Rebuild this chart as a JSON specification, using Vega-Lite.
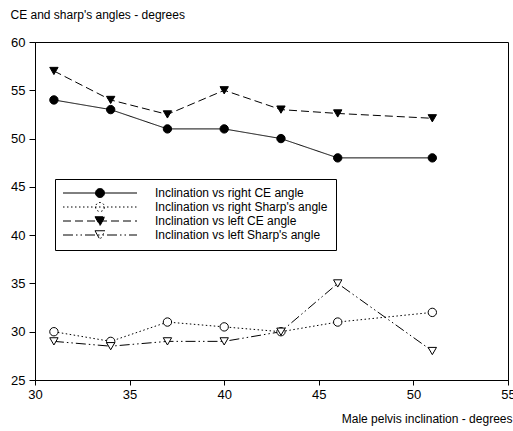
{
  "$schema": "https://vega.github.io/schema/vega-lite/v6.json",
  "width": 473,
  "height": 338,
  "autosize": "none",
  "padding": {"left": 35, "top": 42, "right": 5, "bottom": 51},
  "background": "white",
  "config": {
    "view": {"stroke": "black", "strokeWidth": 1},
    "font": "Liberation Sans"
  },
  "data": {
    "values": [
      {"s": "Inclination vs right CE angle", "m": "rCE", "x": 31, "y": 54},
      {"s": "Inclination vs right CE angle", "m": "rCE", "x": 34, "y": 53},
      {"s": "Inclination vs right CE angle", "m": "rCE", "x": 37, "y": 51},
      {"s": "Inclination vs right CE angle", "m": "rCE", "x": 40, "y": 51},
      {"s": "Inclination vs right CE angle", "m": "rCE", "x": 43, "y": 50},
      {"s": "Inclination vs right CE angle", "m": "rCE", "x": 46, "y": 48},
      {"s": "Inclination vs right CE angle", "m": "rCE", "x": 51, "y": 48},
      {"s": "Inclination vs right Sharp's angle", "m": "rSh", "x": 31, "y": 30},
      {"s": "Inclination vs right Sharp's angle", "m": "rSh", "x": 34, "y": 29},
      {"s": "Inclination vs right Sharp's angle", "m": "rSh", "x": 37, "y": 31},
      {"s": "Inclination vs right Sharp's angle", "m": "rSh", "x": 40, "y": 30.5},
      {"s": "Inclination vs right Sharp's angle", "m": "rSh", "x": 43, "y": 30},
      {"s": "Inclination vs right Sharp's angle", "m": "rSh", "x": 46, "y": 31},
      {"s": "Inclination vs right Sharp's angle", "m": "rSh", "x": 51, "y": 32},
      {"s": "Inclination vs left CE angle", "m": "lCE", "x": 31, "y": 57},
      {"s": "Inclination vs left CE angle", "m": "lCE", "x": 34, "y": 54},
      {"s": "Inclination vs left CE angle", "m": "lCE", "x": 37, "y": 52.5},
      {"s": "Inclination vs left CE angle", "m": "lCE", "x": 40, "y": 55},
      {"s": "Inclination vs left CE angle", "m": "lCE", "x": 43, "y": 53},
      {"s": "Inclination vs left CE angle", "m": "lCE", "x": 46, "y": 52.6},
      {"s": "Inclination vs left CE angle", "m": "lCE", "x": 51, "y": 52.1},
      {"s": "Inclination vs left Sharp's angle", "m": "lSh", "x": 31, "y": 29},
      {"s": "Inclination vs left Sharp's angle", "m": "lSh", "x": 34, "y": 28.5},
      {"s": "Inclination vs left Sharp's angle", "m": "lSh", "x": 37, "y": 29},
      {"s": "Inclination vs left Sharp's angle", "m": "lSh", "x": 40, "y": 29},
      {"s": "Inclination vs left Sharp's angle", "m": "lSh", "x": 43, "y": 30},
      {"s": "Inclination vs left Sharp's angle", "m": "lSh", "x": 46, "y": 35},
      {"s": "Inclination vs left Sharp's angle", "m": "lSh", "x": 51, "y": 28}
    ]
  },
  "encoding": {
    "x": {
      "field": "x", "type": "quantitative",
      "scale": {"domain": [30, 55], "nice": false, "zero": false},
      "axis": {
        "values": [30, 35, 40, 45, 50, 55],
        "grid": false, "domainColor": "black", "tickColor": "black",
        "tickSize": 5, "labelFontSize": 13, "labelColor": "black", "labelPadding": 3,
        "labelFlush": false,
        "title": "Male pelvis inclination - degrees",
        "titleFontSize": 12, "titleFontWeight": "normal", "titleColor": "black",
        "titleAnchor": null, "titleAlign": "right", "titleBaseline": "alphabetic",
        "titleX": 477, "titleY": 42
      }
    },
    "y": {
      "field": "y", "type": "quantitative",
      "scale": {"domain": [25, 60], "nice": false, "zero": false},
      "axis": {
        "values": [25, 30, 35, 40, 45, 50, 55, 60],
        "grid": false, "domainColor": "black", "tickColor": "black",
        "tickSize": 6, "labelFontSize": 13, "labelColor": "black", "labelPadding": 4,
        "title": "CE and sharp's angles - degrees",
        "titleFontSize": 12, "titleFontWeight": "normal", "titleColor": "black",
        "titleAngle": 0, "titleAnchor": null, "titleAlign": "left", "titleBaseline": "alphabetic",
        "titleX": -25, "titleY": -24
      }
    }
  },
  "layer": [
    {
      "mark": {"type": "line", "color": "black", "strokeWidth": 1},
      "encoding": {
        "strokeDash": {
          "field": "s", "type": "nominal",
          "scale": {
            "domain": ["Inclination vs right CE angle", "Inclination vs right Sharp's angle", "Inclination vs left CE angle", "Inclination vs left Sharp's angle"],
            "range": [[1, 0], [1.5, 2.5], [8, 4], [10, 3, 1.5, 3, 1.5, 3]]
          },
          "legend": {
            "orient": "none", "legendX": 20, "legendY": 137,
            "title": null,
            "fillColor": "white", "strokeColor": "black",
            "padding": 8,
            "symbolSize": 100,
            "symbolStrokeColor": "black", "symbolStrokeWidth": 1,
            "labelFontSize": 12, "labelColor": "black", "labelOffset": 80, "labelLimit": 300,
            "rowPadding": 0,
            "encode": {
              "symbols": {
                "update": {
                  "shape": {"signal": "indexof(datum.value, 'right') >= 0 ? 'M-1.2,0H13.6M5.3,0A0.9,0.9 0 1,0 7.1,0A0.9,0.9 0 1,0 5.3,0Z' : 'M-1.2,0H13.6M5.2,-0.85L7.2,-0.85L6.2,0.95Z'"},
                  "fill": {"signal": "indexof(datum.value, 'CE') >= 0 ? 'black' : 'white'"},
                  "stroke": {"value": "black"},
                  "strokeWidth": {"value": 1}
                }
              }
            }
          }
        }
      }
    },
    {
      "mark": {"type": "point", "filled": true, "size": 70, "stroke": "black", "strokeWidth": 1, "opacity": 1},
      "encoding": {
        "shape": {
          "field": "m", "type": "nominal",
          "scale": {
            "domain": ["rCE", "rSh", "lCE", "lSh"],
            "range": ["circle", "circle", "triangle-down", "triangle-down"]
          },
          "legend": null
        },
        "fill": {
          "field": "m", "type": "nominal",
          "scale": {
            "domain": ["rCE", "rSh", "lCE", "lSh"],
            "range": ["black", "white", "black", "white"]
          },
          "legend": null
        }
      }
    }
  ]
}
